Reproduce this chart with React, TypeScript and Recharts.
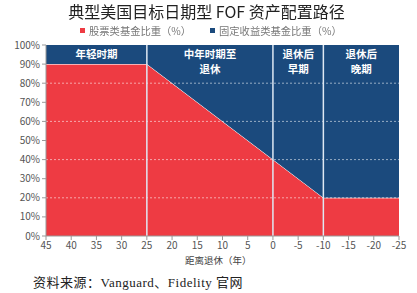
import React from "react";
import {
  ComposedChart,
  Area,
  XAxis,
  YAxis,
  ReferenceLine,
  ReferenceArea,
} from "recharts";

// years before retirement (x axis runs from 45 down to -25)
const years = [45, 25, 0, -10, -25];
const stockShare = [90, 90, 40, 20, 20];
const bondShare = [10, 10, 60, 80, 80];

const xTicks = [45, 40, 35, 30, 25, 20, 15, 10, 5, 0, -5, -10, -15, -20, -25];
const yTicks = [0, 10, 20, 30, 40, 50, 60, 70, 80, 90, 100];
const gridValues = [20, 40, 60, 80];
const dividers = [25, 0, -10];

const phaseFrom = [45, 25, 0, -10];
const phaseTo = [25, 0, -10, -25];
const phaseNames = [["年轻时期"], ["中年时期至", "退休"], ["退休后", "早期"], ["退休后", "晚期"]];

const RED = "#EE3B43";
const BLUE = "#1B4A7D";
const CJK = "'Noto Sans CJK SC', sans-serif";

const data = years.map((y, i) => ({ year: y, stock: stockShare[i], bond: bondShare[i] }));

function PhaseLabel(props: any) {
  const { viewBox, lines } = props;
  const cx = viewBox.x + viewBox.width / 2;
  return (
    <g>
      {lines.map((l: string, i: number) => (
        <text
          key={i}
          x={cx}
          y={viewBox.y + 13 + i * 15.4}
          textAnchor="middle"
          fill="#fff"
          fontSize={10.5}
          fontWeight="bold"
          fontFamily={CJK}
        >
          {l}
        </text>
      ))}
    </g>
  );
}

const legendStyle: React.CSSProperties = {
  position: "absolute",
  top: 25.5,
  fontSize: 10.3,
  lineHeight: 1,
  color: "#777",
  display: "flex",
  alignItems: "center",
  whiteSpace: "nowrap",
};

export default function App() {
  return (
    <div
      style={{
        position: "fixed",
        left: 0,
        top: 0,
        width: 417,
        height: 293,
        background: "#fff",
        fontFamily: CJK,
      }}
    >
      <div style={{ position: "absolute", left: 0, top: 0 }}>
        <ComposedChart
          width={417}
          height={293}
          data={data}
          margin={{ top: 45, right: 18, bottom: 38, left: 0 }}
        >
          <XAxis
            dataKey="year"
            type="number"
            domain={[-25, 45]}
            reversed
            ticks={xTicks}
            interval={0}
            tick={{ fontSize: 10, fill: "#555" }}
            tickSize={4}
            stroke="#999"
            height={19}
          />
          <YAxis
            domain={[0, 100]}
            ticks={yTicks}
            interval={0}
            tickFormatter={(v) => `${v}%`}
            tick={{ fontSize: 10, fill: "#555" }}
            tickSize={4}
            stroke="#999"
            width={46}
          />
          <Area
            type="linear"
            dataKey="stock"
            stackId="a"
            fill={RED}
            fillOpacity={1}
            stroke="#fff"
            strokeWidth={1}
            isAnimationActive={false}
          />
          <Area
            type="linear"
            dataKey="bond"
            stackId="a"
            fill={BLUE}
            fillOpacity={1}
            stroke="none"
            isAnimationActive={false}
          />
          {gridValues.map((g) => (
            <ReferenceLine
              key={g}
              y={g}
              stroke="#ffffff"
              strokeOpacity={0.55}
              strokeDasharray="2 2"
            />
          ))}
          {dividers.map((d) => (
            <ReferenceLine key={d} x={d} stroke="#dfe8f3" strokeWidth={1.5} />
          ))}
          {phaseNames.map((lines, i) => (
            <ReferenceArea
              key={i}
              x1={phaseFrom[i]}
              x2={phaseTo[i]}
              y1={90}
              y2={100}
              fill="none"
              stroke="none"
              label={<PhaseLabel lines={lines} />}
            />
          ))}
        </ComposedChart>
      </div>
      <div
        style={{
          position: "absolute",
          top: 2.5,
          left: -2,
          width: 417,
          textAlign: "center",
          fontSize: 16,
          lineHeight: 1,
          color: "#222",
        }}
      >
        典型美国目标日期型 FOF 资产配置路径
      </div>
      <div style={{ ...legendStyle, left: 80 }}>
        <span style={{ width: 5, height: 5, background: RED, display: "inline-block", marginRight: 4 }} />
        股票类基金比重（%）
      </div>
      <div style={{ ...legendStyle, left: 210 }}>
        <span style={{ width: 5, height: 5, background: BLUE, display: "inline-block", marginRight: 4 }} />
        固定收益类基金比重（%）
      </div>
      <div
        style={{
          position: "absolute",
          top: 256,
          left: 185,
          fontSize: 9.5,
          lineHeight: 1,
          color: "#444",
        }}
      >
        距离退休（年）
      </div>
      <div
        style={{
          position: "absolute",
          top: 276,
          left: 33,
          fontSize: 13,
          lineHeight: 1,
          letterSpacing: 0.5,
          color: "#222",
          fontFamily: "'Liberation Serif', 'Noto Sans CJK SC', serif",
        }}
      >
        资料来源：Vanguard、Fidelity 官网
      </div>
    </div>
  );
}
